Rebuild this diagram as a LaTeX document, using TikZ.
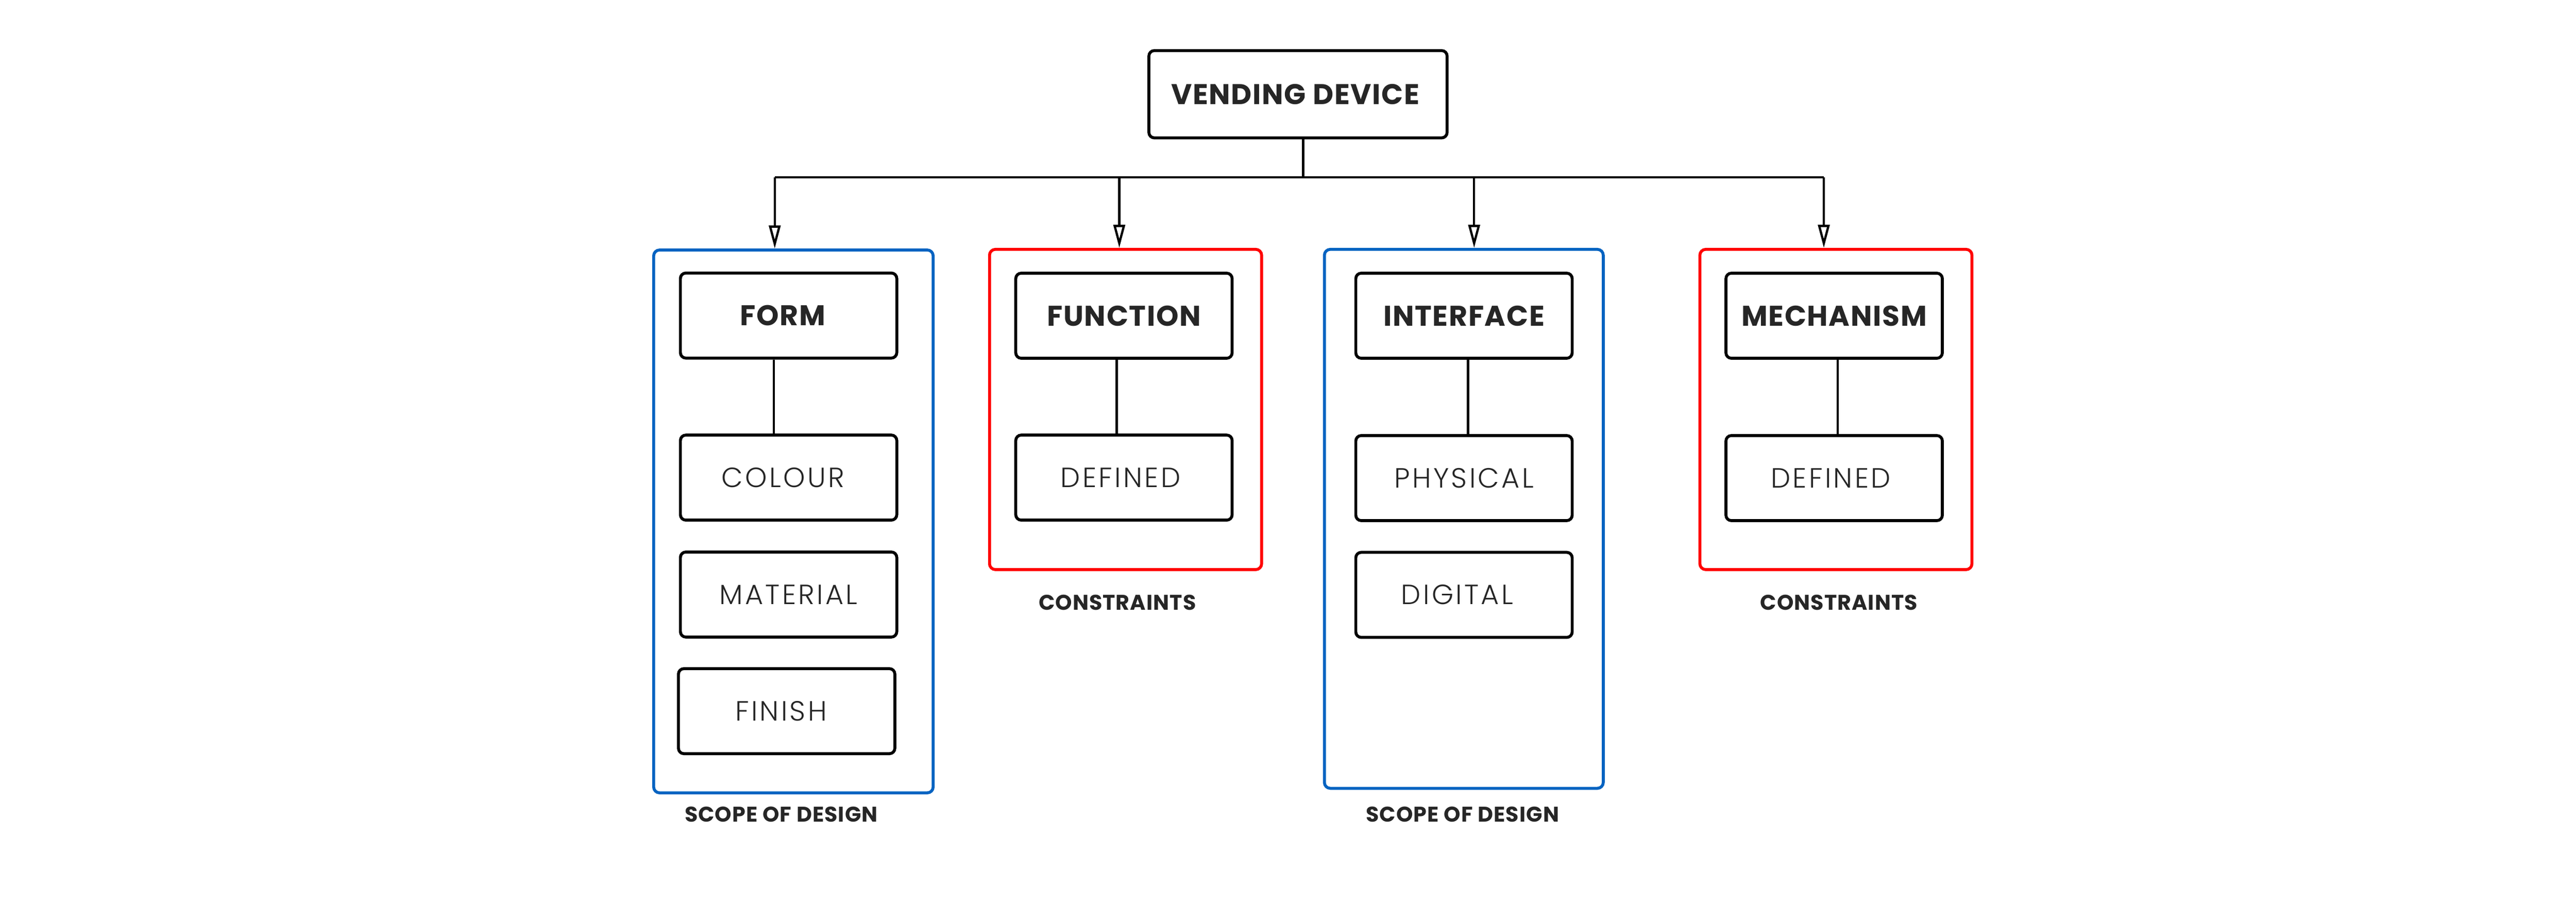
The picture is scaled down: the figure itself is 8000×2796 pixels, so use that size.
\documentclass[tikz,border=0pt]{standalone}
\usepackage{fontspec}
\setmainfont{Poppins}
\newfontfamily\titlef{Poppins}[LetterSpace=3]
\newfontfamily\lightf{Poppins Light}[LetterSpace=8]
\newfontfamily\labelf{Poppins}[LetterSpace=2.5]
\usetikzlibrary{arrows.meta,fit}
\definecolor{scopeblue}{HTML}{0563C1}
\definecolor{consred}{HTML}{FF0000}
\definecolor{txt}{HTML}{262626}
\newcommand{\nudgeleft}[1]{\hspace*{#1}}
\tikzset{
  boxbase/.style={draw=black, line width=1.3pt, rounded corners=2.4pt, inner sep=0pt, text=txt,
                  minimum width=672*0.005cm, minimum height=264*0.005cm},
  titlebox/.style={boxbase, font=\titlef\fontsize{12.6}{14}\selectfont\bfseries},
  itembox/.style={boxbase, font=\lightf\fontsize{12.3}{14}\selectfont},
  bluegroup/.style={draw=scopeblue, line width=1.3pt, rounded corners=2.6pt, inner sep=0pt},
  redgroup/.style={draw=consred, line width=1.3pt, rounded corners=2.6pt, inner sep=0pt},
  grouplabel/.style={text=txt, font=\labelf\fontsize{9.4}{11}\selectfont\bfseries, inner sep=0pt},
  conn/.style={draw=black, line width=1pt},
  arr/.style={conn, -{Triangle[open, length=10.2pt, width=5.1pt]}}
}
\begin{document}
\begin{tikzpicture}[x=0.005cm, y=-0.005cm]
\fill[white] (0,0) rectangle (8000,2796);
\useasboundingbox (0,0) rectangle (8000,2796);

% top node
\node[titlebox, minimum width=926*0.005cm, minimum height=271*0.005cm] (vend) at (4031,292.5) {VENDING DEVICE\nudgeleft{2.3pt}};

% group frames
\node[bluegroup, fit={(2030,776) (2898,2461)}] (g1) {};
\node[redgroup,  fit={(3073,774) (3918,1768)}] (g2) {};
\node[bluegroup, fit={(4113,774) (4979,2447)}] (g3) {};
\node[redgroup,  fit={(5279,774) (6124,1768)}] (g4) {};

% group 1
\node[titlebox] (form)     at (2449,979.5)  {FORM\nudgeleft{5pt}};
\node[itembox]  (colour)   at (2449,1482.5) {COLOUR\nudgeleft{5pt}};
\node[itembox]  (material) at (2449,1845.5) {MATERIAL};
\node[itembox]  (finish)   at (2443,2207.5) {FINISH\nudgeleft{5pt}};

% group 2
\node[titlebox] (function) at (3490.5,980)    {FUNCTION};
\node[itembox]  (defined1) at (3490.5,1482.5) {DEFINED\nudgeleft{3pt}};

% group 3
\node[titlebox] (interface) at (4546.5,980)    {INTERFACE};
\node[itembox]  (physical)  at (4546.5,1484)   {PHYSICAL};
\node[itembox]  (digital)   at (4546.5,1846.5) {DIGITAL\nudgeleft{6pt}};

% group 4
\node[titlebox] (mechanism) at (5696,980)  {MECHANISM};
\node[itembox]  (defined2)  at (5696,1484) {DEFINED\nudgeleft{3pt}};

% group labels
\node[grouplabel] (scope1) at (2426,2528) {SCOPE OF DESIGN};
\node[grouplabel] (cons1)  at (3470,1871) {CONSTRAINTS};
\node[grouplabel] (scope2) at (4542,2528) {SCOPE OF DESIGN};
\node[grouplabel] (cons2)  at (5711,1871) {CONSTRAINTS};

% bus coordinates
\coordinate (vx) at (4047,550);
\coordinate (a1) at (2406,550);
\coordinate (a2) at (3476,550);
\coordinate (a3) at (4578,550);
\coordinate (a4) at (5664,550);

\draw[conn] (vend.south -| vx) -- (vx);
\draw[conn] (a1) -- (a4);
\draw[arr] (a1) -- (g1.north -| a1);
\draw[arr] (a2) -- (g2.north -| a2);
\draw[arr] (a3) -- (g3.north -| a3);
\draw[arr] (a4) -- (g4.north -| a4);

% inner connectors
\coordinate (c1) at (2403,0);
\coordinate (c2) at (3468,0);
\coordinate (c3) at (4559,0);
\coordinate (c4) at (5707,0);
\draw[conn] (form.south -| c1) -- (colour.north -| c1);
\draw[conn] (function.south -| c2) -- (defined1.north -| c2);
\draw[conn] (interface.south -| c3) -- (physical.north -| c3);
\draw[conn] (mechanism.south -| c4) -- (defined2.north -| c4);
\end{tikzpicture}
\end{document}
